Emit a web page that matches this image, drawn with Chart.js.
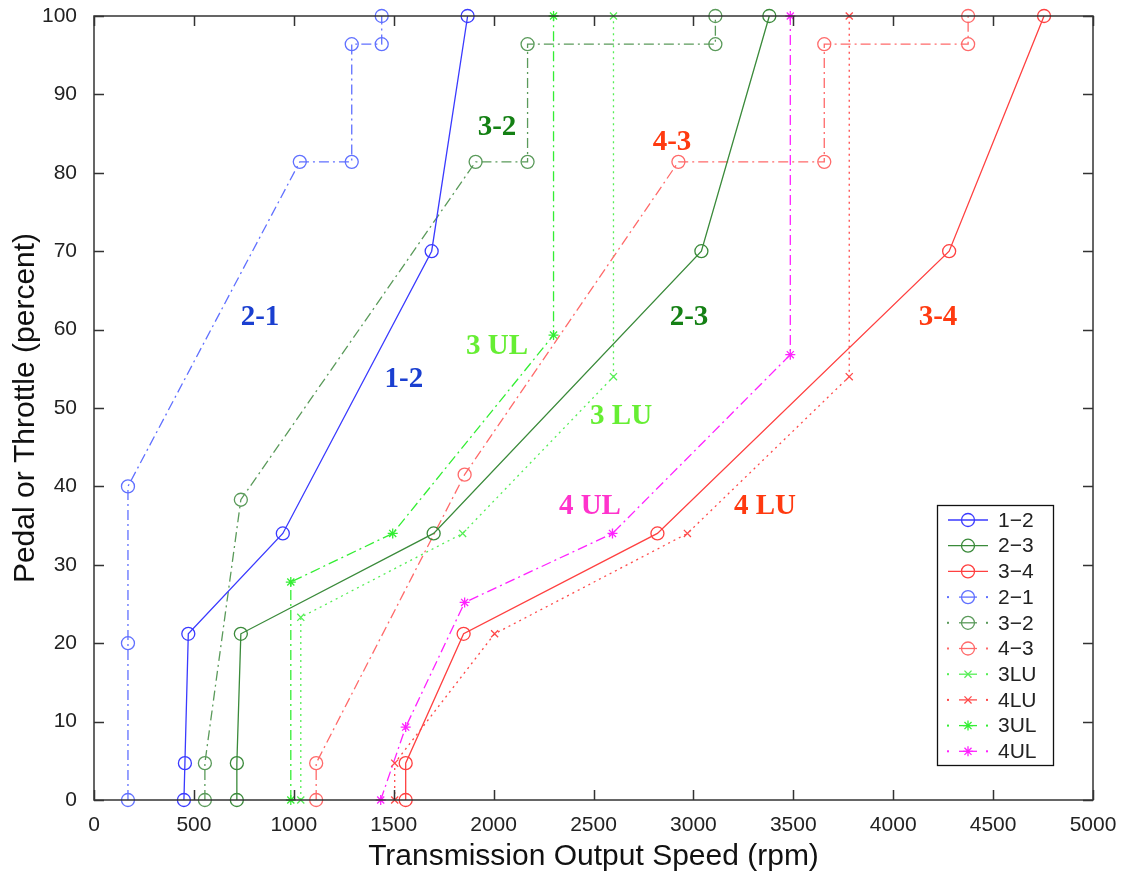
<!DOCTYPE html>
<html>
<head>
<meta charset="utf-8">
<title>Shift schedule</title>
<script src="https://cdn.jsdelivr.net/npm/chart.js@4.4.1/dist/chart.umd.min.js"></script>
<style>
    html, body { margin: 0; padding: 0; background: #fff; }
    #wrap { width: 1126px; height: 871px; }
</style>
</head>
<body>
<div id="wrap"><canvas id="chartShift" width="1126" height="871"></canvas></div>
<script>
// rpm / throttle breakpoints for every shift line
const rpm12 = [450, 455, 472, 945, 1690, 1870];
const thr12 = [0, 4.7, 21.2, 34, 70, 100];
const rpm23 = [715, 715, 735, 1700, 3040, 3380];
const thr23 = [0, 4.7, 21.2, 34, 70, 100];
const rpm34 = [1560, 1560, 1850, 2820, 4280, 4755];
const thr34 = [0, 4.7, 21.2, 34, 70, 100];
const rpm21 = [170, 170, 170, 1030, 1290, 1290, 1440, 1440];
const thr21 = [0, 20, 40, 81.4, 81.4, 96.4, 96.4, 100];
const rpm32 = [555, 555, 735, 1910, 2170, 2170, 3110, 3110];
const thr32 = [0, 4.7, 38.3, 81.4, 81.4, 96.4, 96.4, 100];
const rpm43 = [1112, 1112, 1855, 2925, 3655, 3655, 4375, 4375];
const thr43 = [0, 4.7, 41.5, 81.4, 81.4, 96.4, 96.4, 100];
const rpm3LU = [1035, 1035, 1845, 2600, 2600];
const thr3LU = [0, 23.3, 34, 54, 100];
const rpm4LU = [1505, 1505, 2005, 2970, 3780, 3780];
const thr4LU = [0, 4.7, 21.2, 34, 54, 100];
const rpm3UL = [985, 985, 1495, 2300, 2300];
const thr3UL = [0, 27.8, 34, 59.3, 100];
const rpm4UL = [1435, 1560, 1855, 2595, 3485, 3485];
const thr4UL = [0, 9.3, 25.2, 34, 56.8, 100];

const xTicks = [0, 500, 1000, 1500, 2000, 2500, 3000, 3500, 4000, 4500, 5000];
const yTicks = [0, 10, 20, 30, 40, 50, 60, 70, 80, 90, 100];

// text labels written on the plot
const noteText = ['2-1', '1-2', '3-2', '4-3', '3 UL', '2-3', '3 LU', '3-4', '4 UL', '4 LU'];
const noteRpm = [831, 1551, 2017, 2893, 2017, 2978, 2638, 4224, 2482, 3358];
const noteThr = [61.6, 53.6, 85.8, 83.8, 57.8, 61.5, 48.9, 61.6, 37.4, 37.4];
const noteColor = ['#1a3fd0', '#1a3fd0', '#148014', '#ff3a10', '#66ee33', '#148014', '#66ee33', '#ff3a10', '#ff33cc', '#ff3a10'];

const DASHDOT = [10, 4, 2, 4];
const DOT = [2, 4];

const pts = (xs, ys) => xs.map((v, i) => ({ x: v, y: ys[i] }));

const serie = (label, xs, ys, color, dash, marker) => ({
    label: label,
    data: pts(xs, ys),
    showLine: true,
    borderColor: color,
    borderWidth: 1.3,
    borderDash: dash,
    pointStyle: marker,
    pointRadius: marker === 'circle' ? 6.5 : 5,
    pointBorderColor: color,
    pointBackgroundColor: 'rgba(0,0,0,0)',
    pointBorderWidth: 1.3,
    clip: false
});

const datasets = [
    serie('1\u22122', rpm12, thr12, '#3a3aff', [], 'circle'),
    serie('2\u22123', rpm23, thr23, '#3a8a3a', [], 'circle'),
    serie('3\u22124', rpm34, thr34, '#ff4040', [], 'circle'),
    serie('2\u22121', rpm21, thr21, '#6070ff', DASHDOT, 'circle'),
    serie('3\u22122', rpm32, thr32, '#5a9a5a', DASHDOT, 'circle'),
    serie('4\u22123', rpm43, thr43, '#ff6a6a', DASHDOT, 'circle'),
    serie('3LU', rpm3LU, thr3LU, '#55ee55', DOT, 'crossRot'),
    serie('4LU', rpm4LU, thr4LU, '#ff4a4a', DOT, 'crossRot'),
    serie('3UL', rpm3UL, thr3UL, '#33ee33', DASHDOT, 'star'),
    serie('4UL', rpm4UL, thr4UL, '#ff22ff', DASHDOT, 'star')
];

// box around the plot with ticks pointing inward
const boxTicks = {
    id: 'boxTicks',
    afterDraw(chart) {
        const { ctx, chartArea: a, scales } = chart;
        ctx.save();
        ctx.strokeStyle = '#333';
        ctx.lineWidth = 1.5;
        ctx.strokeRect(a.left, a.top, a.right - a.left, a.bottom - a.top);
        ctx.beginPath();
        scales.x.ticks.forEach(t => {
            const px = Math.round(scales.x.getPixelForValue(t.value)) + 0.5;
            ctx.moveTo(px, a.bottom); ctx.lineTo(px, a.bottom - 10);
            ctx.moveTo(px, a.top); ctx.lineTo(px, a.top + 10);
        });
        scales.y.ticks.forEach(t => {
            const py = Math.round(scales.y.getPixelForValue(t.value)) + 0.5;
            ctx.moveTo(a.left, py); ctx.lineTo(a.left + 10, py);
            ctx.moveTo(a.right, py); ctx.lineTo(a.right - 10, py);
        });
        ctx.stroke();
        ctx.restore();
    }
};

// bold labels naming each curve
const notes = {
    id: 'notes',
    afterDatasetsDraw(chart) {
        const { ctx, scales } = chart;
        ctx.save();
        ctx.font = 'bold 29px "Liberation Serif", "Times New Roman", serif';
        ctx.textAlign = 'center';
        ctx.textBaseline = 'middle';
        noteText.forEach((txt, i) => {
            ctx.fillStyle = noteColor[i];
            ctx.fillText(txt, scales.x.getPixelForValue(noteRpm[i]), scales.y.getPixelForValue(noteThr[i]));
        });
        ctx.restore();
    }
};

// legend box in the lower right corner of the plot
const boxLegend = {
    id: 'boxLegend',
    afterDraw(chart) {
        const { ctx, chartArea: a } = chart;
        const ds = chart.data.datasets;
        const w = 116, rowH = 25.7, h = ds.length * rowH + 3;
        const left = a.right - 156, top = a.bottom - 295;
        ctx.save();
        ctx.fillStyle = '#fff';
        ctx.fillRect(left, top, w, h);
        ctx.strokeStyle = '#111';
        ctx.lineWidth = 1.3;
        ctx.strokeRect(left + 0.5, top + 0.5, w, h);
        ds.forEach((d, i) => {
            const cy = top + 15 + i * rowH;
            const cx = left + 31;
            ctx.strokeStyle = d.borderColor;
            ctx.fillStyle = d.borderColor;
            ctx.lineWidth = 1.3;
            ctx.beginPath();
            if (d.borderDash.length === 0) {
                ctx.moveTo(cx - 20, cy); ctx.lineTo(cx + 20, cy);
                ctx.stroke();
            } else {
                ctx.moveTo(cx - 9, cy); ctx.lineTo(cx + 9, cy);
                ctx.stroke();
                ctx.fillRect(cx - 21, cy - 1, 2, 2);
                ctx.fillRect(cx + 18, cy - 1, 2, 2);
            }
            ctx.fillStyle = 'rgba(0,0,0,0)';
            Chart.helpers.drawPoint(ctx, {
                pointStyle: d.pointStyle,
                radius: d.pointRadius,
                borderWidth: 1.3
            }, cx, cy);
            ctx.fillStyle = '#222';
            ctx.font = '21px "Liberation Sans", Arial, sans-serif';
            ctx.textAlign = 'left';
            ctx.textBaseline = 'middle';
            ctx.fillText(d.label, left + 61, cy + 1);
        });
        ctx.restore();
    }
};

const tickFont = { family: '"Liberation Sans", Arial, sans-serif', size: 21 };
const titleFont = { family: '"Liberation Sans", Arial, sans-serif', size: 30 };

new Chart(document.getElementById('chartShift'), {
    type: 'scatter',
    data: { datasets: datasets },
    options: {
        responsive: false,
        animation: false,
        layout: { padding: { left: 0, top: 16, right: 33, bottom: 0 } },
        plugins: {
            legend: { display: false },
            tooltip: { enabled: false }
        },
        scales: {
            x: {
                type: 'linear',
                min: 0,
                max: 5000,
                afterBuildTicks: s => { s.ticks = xTicks.map(v => ({ value: v })); },
                afterFit: s => { s.height = 71; },
                grid: { display: false },
                border: { display: false },
                ticks: { font: tickFont, color: '#222', padding: 5, maxRotation: 0, callback: v => String(v) },
                title: {
                    display: true,
                    text: 'Transmission Output Speed (rpm)',
                    font: titleFont,
                    color: '#111',
                    padding: { top: 0, bottom: -4 }
                }
            },
            y: {
                type: 'linear',
                min: 0,
                max: 100,
                afterBuildTicks: s => { s.ticks = yTicks.map(v => ({ value: v })); },
                afterFit: s => { s.width = 94; s.paddingTop = 0; s.paddingBottom = 0; },
                grid: { display: false },
                border: { display: false },
                ticks: { font: tickFont, color: '#222', padding: 9, callback: v => String(v) },
                title: {
                    display: true,
                    text: 'Pedal or Throttle (percent)',
                    font: titleFont,
                    color: '#111',
                    padding: { top: 8, bottom: 0 }
                }
            }
        }
    },
    plugins: [boxTicks, notes, boxLegend]
});
</script>
</body>
</html>
